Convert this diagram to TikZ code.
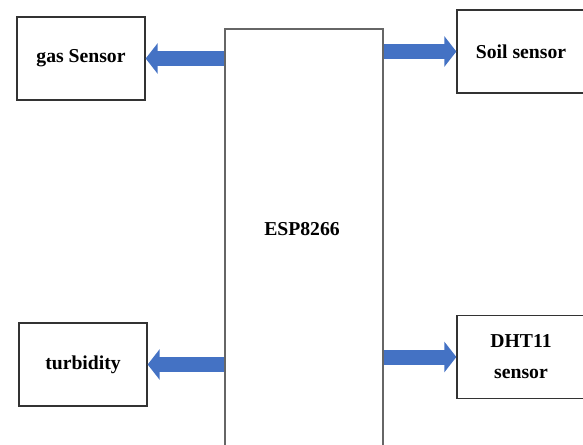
\documentclass[tikz,border=0pt]{standalone}
\usepackage{fontspec}
\setmainfont{Liberation Serif}
\usetikzlibrary{arrows.meta}
\definecolor{arrowblue}{HTML}{4472C4}

\begin{document}
\begin{tikzpicture}[x=0.025cm,y=-0.025cm,
  sensorbox/.style={draw=black!80,line width=0.9pt,minimum width=3.2cm,minimum height=2.07cm,
    font=\fontsize{14}{22}\selectfont\bfseries,align=center},
  espbox/.style={draw=black!60,line width=0.9pt,minimum width=3.95cm,minimum height=10.8cm},
  fatarrow/.style={draw=arrowblue,line width=0.375cm,-{Triangle[length=0.3cm,width=0.75cm]}}]
\useasboundingbox (0,0) rectangle (583,445);
\clip (0,0) rectangle (583,445);

%controller in the middle
\node[espbox] (esp) at (304,245) {};
\node[font=\fontsize{14}{16}\selectfont\bfseries] (esptext) at (302,229) {ESP8266};

%sensors
\node[sensorbox] (gas) at (81,58.5) {gas Sensor};
\node[sensorbox] (soil) at (521,51.5) {Soil sensor};
\node[sensorbox] (turb) at (83,364.5) {turbidity};
\node[sensorbox] (dht) at (521,357) {DHT11\\sensor};

%arrows
\draw[fatarrow] (esp.west |- gas.east) -- (gas.east);
\draw[fatarrow] (esp.east |- soil.west) -- (soil.west);
\draw[fatarrow] (esp.west |- turb.east) -- (turb.east);
\draw[fatarrow] (esp.east |- dht.west) -- (dht.west);
\end{tikzpicture}
\end{document}
